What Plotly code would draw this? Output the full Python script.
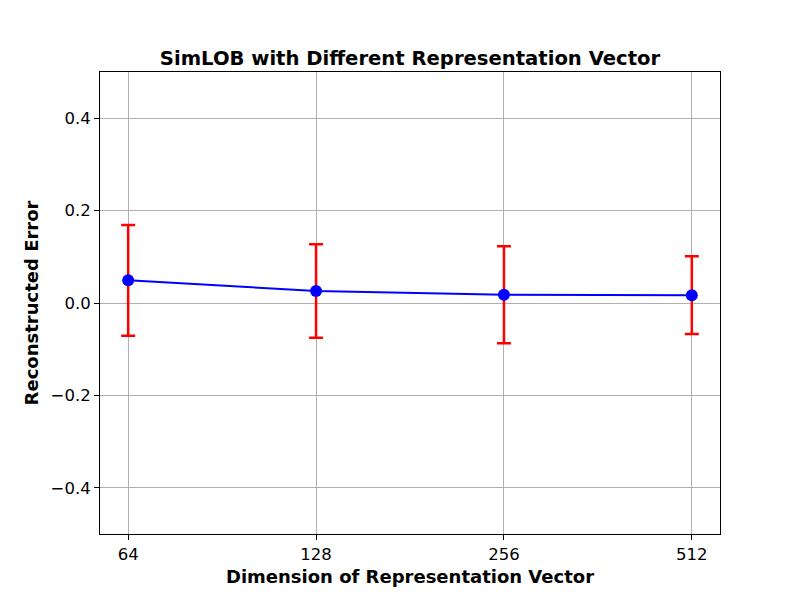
import math
import plotly.graph_objects as go

dims = [64, 128, 256, 512]
dim_labels = ["64", "128", "256", "512"]
mean_err = [0.049, 0.026, 0.018, 0.017]
std_err = [0.120, 0.101, 0.105, 0.084]

FONT = "DejaVu Sans"

fig = go.Figure()
fig.add_trace(go.Scatter(
    x=dims, y=mean_err,
    mode="lines+markers",
    line=dict(color="blue", width=2),
    marker=dict(color="blue", size=12),
    error_y=dict(type="data", array=std_err, visible=True,
                 color="red", thickness=2.5, width=7),
    showlegend=False,
))

lo = math.log10(dims[0]); hi = math.log10(dims[-1])
pad = 0.05 * (hi - lo)

fig.update_layout(
    width=800, height=600,
    margin=dict(l=92, r=88, t=64, b=74),
    paper_bgcolor="white", plot_bgcolor="white",
    font=dict(family=FONT, color="black", size=16),
    title=dict(text="<b>SimLOB with Different Representation Vector</b>",
               x=0.5, xref="paper", xanchor="center",
               y=1 - 50 / 600, yref="container", yanchor="middle",
               font=dict(family=FONT, size=19.6)),
)
fig.update_xaxes(
    type="log", range=[lo - pad, hi + pad],
    tickvals=dims, ticktext=dim_labels,
    showgrid=True, gridcolor="#b0b0b0", gridwidth=1,
    showline=True, linecolor="black", linewidth=1, mirror=True,
    ticks="outside", ticklen=5, tickcolor="black",
    tickfont=dict(size=16.5),
    title=dict(text="<b>Dimension of Representation Vector</b>",
               font=dict(size=18), standoff=7),
    zeroline=False,
)
fig.update_yaxes(
    range=[-0.5, 0.5], dtick=0.2, tick0=0, tickformat=".1f",
    showgrid=True, gridcolor="#b0b0b0", gridwidth=1,
    showline=True, linecolor="black", linewidth=1, mirror=True,
    ticks="outside", ticklen=5, tickcolor="black",
    tickfont=dict(size=16.5),
    title=dict(text="<b>Reconstructed Error</b>",
               font=dict(size=18), standoff=7),
    zeroline=False,
)

fig.write_html("out.html")
